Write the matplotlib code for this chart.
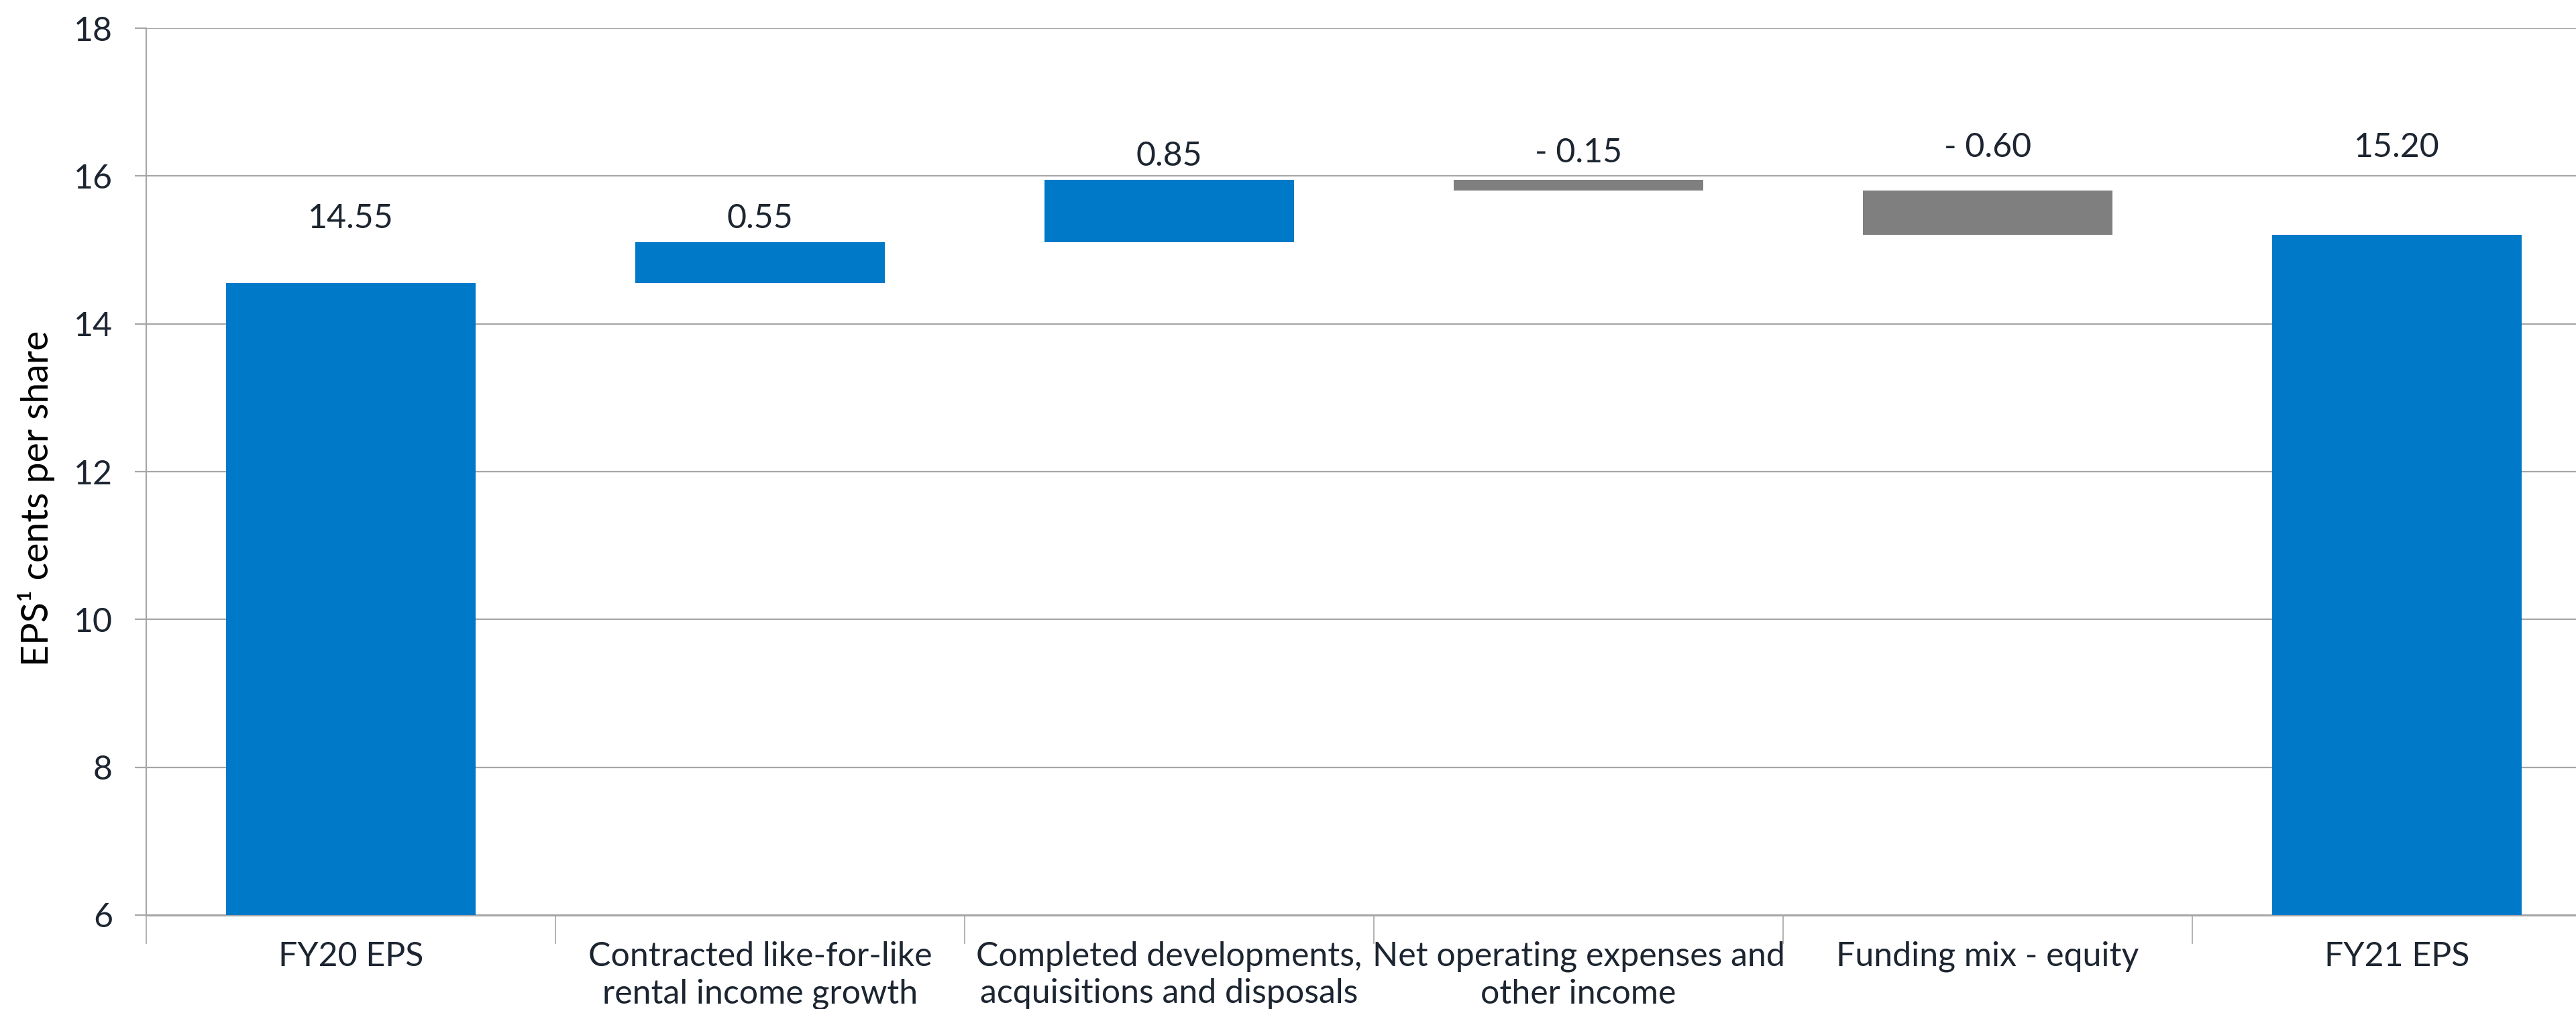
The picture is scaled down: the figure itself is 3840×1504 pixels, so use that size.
import matplotlib
matplotlib.use("Agg")
import matplotlib.pyplot as plt
import numpy as np

# data
categories = ["FY20 EPS", "Contracted like-for-like\nrental income growth",
              "Completed developments,\nacquisitions and disposals",
              "Net operating expenses and\nother income", "Funding mix - equity", "FY21 EPS"]
changes = [14.55, 0.55, 0.85, -0.15, -0.60, 15.20]
is_total = [True, False, False, False, False, True]
value_labels = ["14.55", "0.55", "0.85", "- 0.15", "- 0.60", "15.20"]
yticks = [6, 8, 10, 12, 14, 16, 18]

# label gap above each bar top (data units, as placed in the source)
label_gap = [0.87, 0.32, 0.32, 0.36, 0.58, 1.18]

blue = "#0079C8"
grey = "#7F7F7F"
text_col = "#1c2530"
line_col = "#A6A6A6"

plt.rcParams['font.family'] = ['Lato', 'DejaVu Sans']

fig = plt.figure(figsize=(3841 / 200, 1504 / 200), dpi=200)
ax = fig.add_axes([218 / 3841, 1 - 1364 / 1504, (3878 - 218) / 3841, (1364 - 42) / 1504])

# waterfall geometry
bottoms = []
heights = []
colors = []
running = 0
for v, tot in zip(changes, is_total):
    if tot:
        bottoms.append(yticks[0])
        heights.append(v - yticks[0])
        running = v
        colors.append(blue)
    else:
        if v >= 0:
            bottoms.append(running)
            colors.append(blue)
        else:
            bottoms.append(running + v)
            colors.append(grey)
        heights.append(abs(v))
        running += v

x = np.arange(len(categories))
ax.bar(x, heights, bottom=bottoms, width=0.61, color=colors, zorder=3)

for i in range(len(x)):
    top = bottoms[i] + heights[i]
    ax.text(x[i], top + label_gap[i], value_labels[i], ha="center", va="center",
            fontsize=18, color=text_col)

ax.set_xlim(-0.5, len(categories) - 0.5)
ax.set_ylim(yticks[0], yticks[-1])
ax.set_yticks(yticks)
ax.set_yticklabels([str(t) for t in yticks])
ax.yaxis.grid(True, color=line_col, linewidth=0.8, zorder=0)
ax.set_axisbelow(True)

ax.set_xticks(x)
ax.set_xticklabels(categories)
ax.set_xticks(np.arange(-0.5, len(categories)), minor=True)
ax.tick_params(axis="x", which="major", length=0, pad=14, labelsize=18, labelcolor=text_col)
ax.tick_params(axis="x", which="minor", length=15.5, width=0.6, color=line_col, direction="out")
ax.tick_params(axis="y", length=6, width=0.8, color=line_col, pad=12, labelsize=18, labelcolor=text_col)
for lab in ax.get_xticklabels():
    lab.set_linespacing(1.25)

for s in ["top", "right"]:
    ax.spines[s].set_visible(False)
ax.spines["left"].set_color(line_col)
ax.spines["left"].set_linewidth(0.8)
ax.spines["bottom"].set_color(line_col)
ax.spines["bottom"].set_linewidth(1.1)

ax.set_ylabel("EPS\u00b9 cents per share", fontsize=20, color="#000000", labelpad=10)
ax.yaxis.label.set_y(0.47)

fig.savefig("out.png", dpi=200)
